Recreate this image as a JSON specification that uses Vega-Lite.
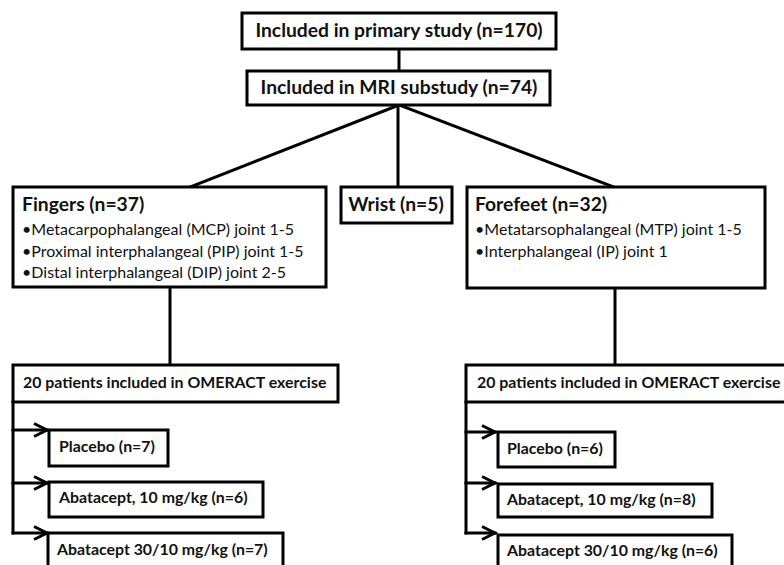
{
  "$schema": "https://vega.github.io/schema/vega-lite/v6.json",
  "width": 784,
  "height": 565,
  "autosize": {"type": "fit", "contains": "padding"},
  "padding": 0,
  "background": "white",
  "config": {"view": {"stroke": null}},
  "datasets": {
    "connectors": [
      {"x": 399, "y": 49, "x2": 399, "y2": 71},
      {"x": 399, "y": 105, "x2": 190, "y2": 187},
      {"x": 398, "y": 105, "x2": 398, "y2": 187},
      {"x": 399, "y": 105, "x2": 614, "y2": 187},
      {"x": 170, "y": 287, "x2": 170, "y2": 366},
      {"x": 615, "y": 288, "x2": 615, "y2": 366},
      {"x": 13, "y": 402, "x2": 13, "y2": 533},
      {"x": 466, "y": 402, "x2": 466, "y2": 533}
    ],
    "arrows": [
      {"x": 13, "x2": 47, "y": 430},
      {"x": 13, "x2": 47, "y": 483},
      {"x": 13, "x2": 47, "y": 533},
      {"x": 466, "x2": 495, "y": 432},
      {"x": 466, "x2": 495, "y": 483},
      {"x": 466, "x2": 495, "y": 533}
    ],
    "boxes": [
      {"name": "primary", "x": 242, "y": 13, "x2": 556, "y2": 49},
      {"name": "mri", "x": 247, "y": 71, "x2": 550, "y2": 105},
      {"name": "fingers", "x": 13, "y": 187, "x2": 326, "y2": 287},
      {"name": "wrist", "x": 341, "y": 187, "x2": 452, "y2": 223},
      {"name": "forefeet", "x": 467, "y": 187, "x2": 765, "y2": 288},
      {"name": "omeract_l", "x": 13, "y": 365, "x2": 338, "y2": 402},
      {"name": "omeract_r", "x": 466, "y": 365, "x2": 800, "y2": 402},
      {"name": "placebo_l", "x": 49, "y": 430, "x2": 168, "y2": 466},
      {"name": "aba10_l", "x": 49, "y": 482, "x2": 263, "y2": 517},
      {"name": "aba30_l", "x": 48, "y": 533, "x2": 283, "y2": 580},
      {"name": "placebo_r", "x": 498, "y": 432, "x2": 615, "y2": 467},
      {"name": "aba10_r", "x": 498, "y": 484, "x2": 712, "y2": 517},
      {"name": "aba30_r", "x": 498, "y": 535, "x2": 732, "y2": 580}
    ],
    "headers_center": [
      {"x": 399, "y": 31, "text": "Included in primary study (n=170)"},
      {"x": 399, "y": 88, "text": "Included in MRI substudy (n=74)"},
      {"x": 396, "y": 205, "text": "Wrist (n=5)"}
    ],
    "headers_left": [
      {"x": 22, "y": 205, "text": "Fingers (n=37)"},
      {"x": 475, "y": 205, "text": "Forefeet (n=32)"}
    ],
    "bullets": [
      {"x": 22, "y": 230, "text": "•Metacarpophalangeal (MCP) joint 1-5"},
      {"x": 22, "y": 252, "text": "•Proximal interphalangeal (PIP) joint 1-5"},
      {"x": 22, "y": 273, "text": "•Distal interphalangeal (DIP) joint 2-5"},
      {"x": 475, "y": 230, "text": "•Metatarsophalangeal (MTP) joint 1-5"},
      {"x": 475, "y": 252, "text": "•Interphalangeal (IP) joint 1"}
    ],
    "labels": [
      {"x": 23, "y": 383, "text": "20 patients included in OMERACT exercise"},
      {"x": 477, "y": 383, "text": "20 patients included in OMERACT exercise"},
      {"x": 59, "y": 447, "text": "Placebo (n=7)"},
      {"x": 59, "y": 498, "text": "Abatacept, 10 mg/kg (n=6)"},
      {"x": 57, "y": 550, "text": "Abatacept 30/10 mg/kg (n=7)"},
      {"x": 507, "y": 449, "text": "Placebo (n=6)"},
      {"x": 507, "y": 500, "text": "Abatacept, 10 mg/kg (n=8)"},
      {"x": 507, "y": 551, "text": "Abatacept 30/10 mg/kg (n=6)"}
    ]
  },
  "layer": [
    {
      "data": {"name": "connectors"},
      "mark": {"type": "rule", "stroke": "#000", "strokeWidth": 3, "strokeCap": "square"},
      "encoding": {
        "x": {"field": "x", "type": "quantitative", "scale": {"domain": [0, 784], "nice": false, "zero": false}, "axis": null},
        "y": {"field": "y", "type": "quantitative", "scale": {"domain": [0, 565], "reverse": true, "nice": false, "zero": false}, "axis": null},
        "x2": {"field": "x2"},
        "y2": {"field": "y2"}
      }
    },
    {
      "data": {"name": "arrows"},
      "mark": {"type": "rule", "stroke": "#000", "strokeWidth": 3, "strokeCap": "square"},
      "encoding": {
        "x": {"field": "x", "type": "quantitative"},
        "x2": {"field": "x2"},
        "y": {"field": "y", "type": "quantitative"}
      }
    },
    {
      "data": {"name": "arrows"},
      "mark": {"type": "point", "shape": "M -2 -1 L 0 0 L -2 1", "size": 169, "filled": false, "stroke": "#000", "strokeWidth": 3, "strokeJoin": "miter", "opacity": 1},
      "encoding": {
        "x": {"field": "x2", "type": "quantitative"},
        "y": {"field": "y", "type": "quantitative"}
      }
    },
    {
      "data": {"name": "boxes"},
      "mark": {"type": "rect", "fill": "white", "stroke": "#000", "strokeWidth": 3, "clip": true},
      "encoding": {
        "x": {"field": "x", "type": "quantitative"},
        "x2": {"field": "x2"},
        "y": {"field": "y", "type": "quantitative"},
        "y2": {"field": "y2"}
      }
    },
    {
      "data": {"name": "headers_center"},
      "mark": {"type": "text", "font": "Lato", "fontWeight": "bold", "fontSize": 19.3, "align": "center", "baseline": "middle", "color": "#111"},
      "encoding": {
        "x": {"field": "x", "type": "quantitative"},
        "y": {"field": "y", "type": "quantitative"},
        "text": {"field": "text"}
      }
    },
    {
      "data": {"name": "headers_left"},
      "mark": {"type": "text", "font": "Lato", "fontWeight": "bold", "fontSize": 19.3, "align": "left", "baseline": "middle", "color": "#111"},
      "encoding": {
        "x": {"field": "x", "type": "quantitative"},
        "y": {"field": "y", "type": "quantitative"},
        "text": {"field": "text"}
      }
    },
    {
      "data": {"name": "bullets"},
      "mark": {"type": "text", "font": "Lato", "fontSize": 16, "align": "left", "baseline": "middle", "color": "#111"},
      "encoding": {
        "x": {"field": "x", "type": "quantitative"},
        "y": {"field": "y", "type": "quantitative"},
        "text": {"field": "text"}
      }
    },
    {
      "data": {"name": "labels"},
      "mark": {"type": "text", "font": "Lato", "fontWeight": "bold", "fontSize": 15.9, "align": "left", "baseline": "middle", "color": "#111"},
      "encoding": {
        "x": {"field": "x", "type": "quantitative"},
        "y": {"field": "y", "type": "quantitative"},
        "text": {"field": "text"}
      }
    }
  ]
}
